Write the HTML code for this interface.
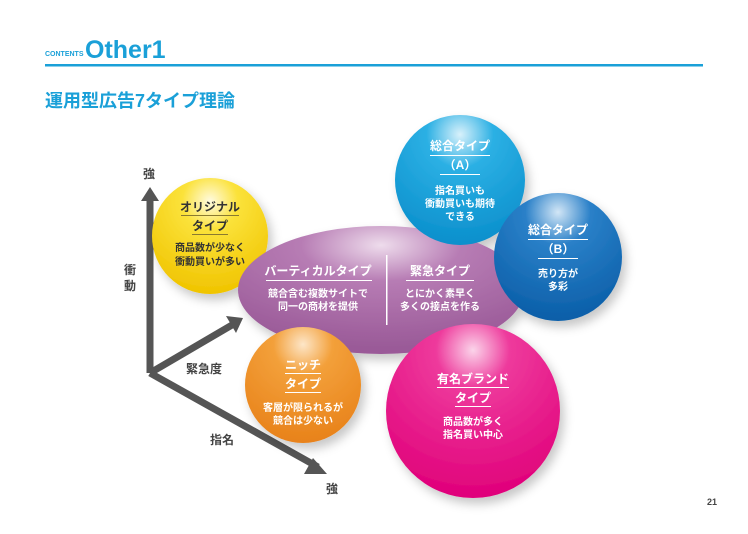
<!DOCTYPE html>
<html><head><meta charset="utf-8"><style>
html,body{margin:0;padding:0;background:#fff;}
body{width:748px;height:529px;overflow:hidden;}
svg text{font-family:"Liberation Sans","Noto Sans CJK JP",sans-serif;font-weight:bold;}
</style></head><body>
<svg width="748" height="529" viewBox="0 0 748 529" xmlns="http://www.w3.org/2000/svg">
<defs>
<radialGradient id="gy" cx="0.5" cy="0.2" r="0.8"><stop offset="0" stop-color="#fffbe0"/><stop offset="0.3" stop-color="#fbe23a"/><stop offset="1" stop-color="#f0c400"/></radialGradient>
<radialGradient id="gp" cx="0.5" cy="0.15" r="0.8"><stop offset="0" stop-color="#eedcec"/><stop offset="0.35" stop-color="#b77cb4"/><stop offset="1" stop-color="#9a5a98"/></radialGradient>
<radialGradient id="ga" cx="0.5" cy="0.15" r="0.85"><stop offset="0" stop-color="#d8f1fb"/><stop offset="0.3" stop-color="#2cb0e4"/><stop offset="1" stop-color="#0a8fcc"/></radialGradient>
<radialGradient id="gb" cx="0.5" cy="0.15" r="0.85"><stop offset="0" stop-color="#d2e6f6"/><stop offset="0.3" stop-color="#2a80c8"/><stop offset="1" stop-color="#0a5ea8"/></radialGradient>
<radialGradient id="go" cx="0.5" cy="0.15" r="0.85"><stop offset="0" stop-color="#fde6c8"/><stop offset="0.3" stop-color="#f3a03a"/><stop offset="1" stop-color="#e8821a"/></radialGradient>
<radialGradient id="gm" cx="0.5" cy="0.15" r="0.85"><stop offset="0" stop-color="#fbd4ea"/><stop offset="0.25" stop-color="#ee3a9c"/><stop offset="1" stop-color="#e0007a"/></radialGradient>
<filter id="sh" x="-30%" y="-30%" width="160%" height="160%"><feDropShadow dx="4" dy="6" stdDeviation="5" flood-color="#000" flood-opacity="0.22"/></filter>
</defs>
<text x="45" y="56" font-size="7" fill="#1aa0d8">CONTENTS</text>
<text x="85" y="58" font-size="25" fill="#1aa0d8">Other1</text>
<rect x="45" y="64" width="658" height="2.5" fill="#1aa0d8"/>
<text x="45" y="107" font-size="18" fill="#1aa0d8">運用型広告7タイプ理論</text>

<!-- axes -->
<g fill="#555" stroke="#555">
<line x1="150" y1="373" x2="150" y2="198" stroke-width="7"/>
<polygon points="141,201 159,201 150,187" stroke="none"/>
<line x1="150" y1="373" x2="232" y2="325" stroke-width="7"/>
<polygon points="226,316 236,333 243,318" stroke="none"/>
<line x1="150" y1="373" x2="318" y2="467" stroke-width="7"/>
<polygon points="313,458 304,474 327,474" stroke="none"/>
</g>
<g fill="#444" font-size="12">
<text x="143" y="178">強</text>
<text x="124" y="274">衝</text>
<text x="124" y="290">動</text>
<text x="186" y="373">緊急度</text>
<text x="210" y="444">指名</text>
<text x="326" y="493">強</text>
</g>

<g filter="url(#sh)">
<circle cx="210" cy="236" r="58" fill="url(#gy)"/>
<ellipse cx="381" cy="290" rx="143" ry="64" fill="url(#gp)"/>
<circle cx="460" cy="180" r="65" fill="url(#ga)"/>
<circle cx="558" cy="257" r="64" fill="url(#gb)"/>
<circle cx="303" cy="385" r="58" fill="url(#go)"/>
<circle cx="473" cy="411" r="87" fill="url(#gm)"/>
</g>

<g text-anchor="middle" font-size="10">
<!-- yellow -->
<text x="210" y="211" font-size="12" fill="#333">オリジナル</text>
<rect x="181" y="215" width="58" height="1" fill="#8a7a30"/>
<text x="210" y="230" font-size="12" fill="#333">タイプ</text>
<rect x="192" y="234" width="36" height="1" fill="#8a7a30"/>
<text x="210" y="251" fill="#333">商品数が少なく</text>
<text x="210" y="265" fill="#333">衝動買いが多い</text>
<!-- purple -->
<g fill="#fff">
<text x="318" y="275" font-size="12">バーティカルタイプ</text>
<rect x="266" y="280" width="106" height="1"/>
<text x="318" y="297">競合含む複数サイトで</text>
<text x="318" y="310">同一の商材を提供</text>
<rect x="386" y="255" width="1.5" height="70"/>
<text x="440" y="275" font-size="12">緊急タイプ</text>
<rect x="406" y="280" width="68" height="1"/>
<text x="440" y="297">とにかく素早く</text>
<text x="440" y="310">多くの接点を作る</text>
<!-- A -->
<text x="460" y="150" font-size="12">総合タイプ</text>
<rect x="430" y="155" width="60" height="1"/>
<text x="460" y="169" font-size="12">（A）</text>
<rect x="440" y="174" width="40" height="1"/>
<text x="460" y="194">指名買いも</text>
<text x="460" y="207">衝動買いも期待</text>
<text x="460" y="220">できる</text>
<!-- B -->
<text x="558" y="234" font-size="12">総合タイプ</text>
<rect x="528" y="239" width="60" height="1"/>
<text x="558" y="253" font-size="12">（B）</text>
<rect x="538" y="258" width="40" height="1"/>
<text x="558" y="277">売り方が</text>
<text x="558" y="290">多彩</text>
<!-- orange -->
<text x="303" y="369" font-size="12">ニッチ</text>
<rect x="285" y="373" width="36" height="1"/>
<text x="303" y="388" font-size="12">タイプ</text>
<rect x="285" y="392" width="36" height="1"/>
<text x="303" y="411">客層が限られるが</text>
<text x="303" y="424">競合は少ない</text>
<!-- magenta -->
<text x="473" y="383" font-size="12">有名ブランド</text>
<rect x="437" y="387" width="72" height="1"/>
<text x="473" y="402" font-size="12">タイプ</text>
<rect x="455" y="406" width="36" height="1"/>
<text x="473" y="425">商品数が多く</text>
<text x="473" y="438">指名買い中心</text>
</g>
</g>
<text x="707" y="505" font-size="9" fill="#444">21</text>
</svg>
</body></html>
